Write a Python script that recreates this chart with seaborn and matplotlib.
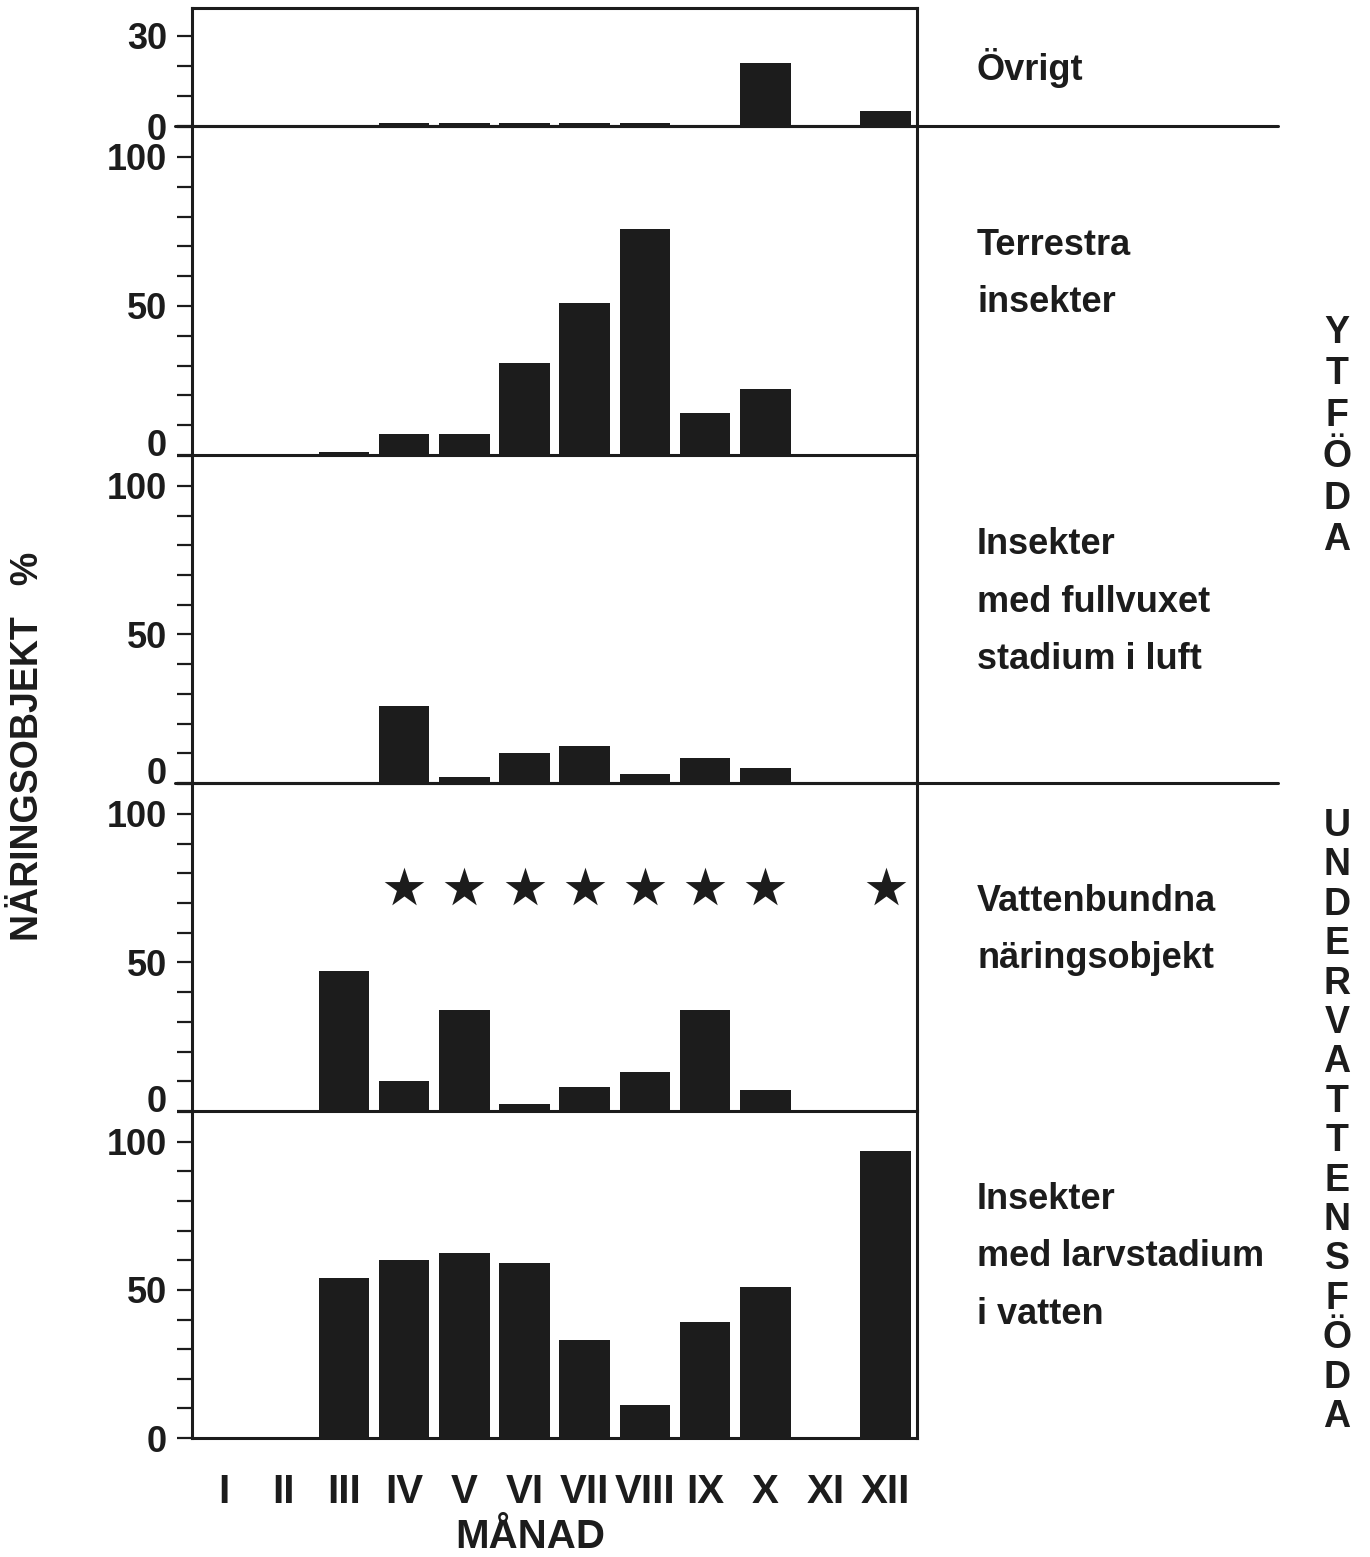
import matplotlib
matplotlib.use("Agg")
import matplotlib.pyplot as plt
import seaborn as sns
import pandas as pd
from matplotlib.ticker import MultipleLocator, FuncFormatter

# data (percent of food items per month)
months = ['I', 'II', 'III', 'IV', 'V', 'VI', 'VII', 'VIII', 'IX', 'X', 'XI', 'XII']
ovrigt = [0, 0, 0, 1, 1, 1, 1, 1, 0, 21, 0, 5]
terrestra = [0, 0, 1, 7, 7, 31, 51, 76, 14, 22, 0, 0]
fullvuxet = [0, 0, 0, 26, 2, 10, 12.5, 3, 8.5, 5, 0, 0]
vattenbundna = [0, 0, 47, 10, 34, 2.5, 8, 13, 34, 7, 0, 0]
larv = [0, 0, 54, 60, 62.5, 59, 33, 11, 39, 51, 0, 97]
star_months = ['IV', 'V', 'VI', 'VII', 'VIII', 'IX', 'X', 'XII']
star_level = 75

panel_labels = ['Övrigt', 'Terrestra\ninsekter', 'Insekter\nmed fullvuxet\nstadium i luft',
                'Vattenbundna\nnäringsobjekt', 'Insekter\nmed larvstadium\ni vatten']
series = [ovrigt, terrestra, fullvuxet, vattenbundna, larv]

sns.set_style('white')
plt.rcParams['font.family'] = ['Liberation Sans', 'DejaVu Sans']
ink = '#1c1c1c'

W, H = 1370, 1557
fig = plt.figure(figsize=(W / 100, H / 100), dpi=100)

# panel edges in pixels (top, bottom)
edges = [(8, 126), (126, 455), (455, 783), (783, 1111), (1111, 1438)]
ylims = [39.3, 110.4, 110.4, 110.4, 110.4]
left_px, right_px = 192, 917
label_y = [68, 274, 602, 930, 1257]
tick_len, tick_pad = 11, 7


def no_zero(v, pos):
    return '' if v == 0 else f'{v:g}'


axes = []
for i, ((t, b), vals) in enumerate(zip(edges, series)):
    ax = fig.add_axes([left_px / W, 1 - b / H, (right_px - left_px) / W, (b - t) / H])
    df = pd.DataFrame({'month': months, 'val': vals})
    sns.barplot(data=df, x='month', y='val', order=months, color=ink, saturation=1,
                width=0.84, linewidth=0, ax=ax)
    ax.set_xlim(-0.525, 11.52)
    ax.set_ylim(0, ylims[i])
    ax.set_xlabel('')
    ax.set_ylabel('')
    for s in ['left', 'right', 'bottom', 'top']:
        ax.spines[s].set_color(ink)
        ax.spines[s].set_linewidth(2.2)
    ax.spines['top'].set_visible(i == 0)
    if i == 0:
        ax.yaxis.set_major_locator(MultipleLocator(30))
    else:
        ax.yaxis.set_major_locator(MultipleLocator(50))
    ax.yaxis.set_minor_locator(MultipleLocator(10))
    ax.tick_params(axis='y', which='both', direction='out', length=tick_len, width=1.6,
                   color=ink, left=True)
    ax.tick_params(axis='y', which='major', labelsize=26, pad=tick_pad, labelcolor=ink)
    if i in (1, 2, 3):
        # this "0" sits a little above its tick, clear of the "100" below it
        ax.yaxis.set_major_formatter(FuncFormatter(no_zero))
        ax.annotate('0', xy=(0, 0), xycoords='axes fraction',
                    xytext=(-(tick_len + tick_pad), 6), textcoords='offset points',
                    ha='right', va='center', fontsize=26, fontweight='bold', color=ink)
    for lab in ax.get_yticklabels():
        lab.set_fontweight('bold')
    if i < 4:
        ax.tick_params(axis='x', which='both', bottom=False, labelbottom=False)
    else:
        ax.tick_params(axis='x', which='both', bottom=False, pad=22)
        ax.set_xticks(range(len(months)))
        ax.set_xticklabels(months, fontsize=29, color=ink, fontweight='bold')
    ax.patch.set_alpha(0)
    fig.text(977 / W, 1 - label_y[i] / H, panel_labels[i], fontsize=26, fontweight='bold',
             color=ink, ha='left', va='center', linespacing=1.85)
    axes.append(ax)

# long zero lines separating surface food from underwater food
for i in (0, 2):
    axes[i].axhline(0, xmin=-0.024, xmax=(1278 - left_px) / (right_px - left_px),
                    color=ink, lw=2.2, clip_on=False, zorder=5)

# stars above the underwater panel
star_x = [months.index(m) for m in star_months]
axes[3].scatter(star_x, [star_level] * len(star_x), marker='*', s=900, color=ink,
                linewidths=0, zorder=4)

# axis titles
fig.text(28 / W, 1 - 746 / H, 'NÄRINGSOBJEKT   %', rotation=90, fontsize=27,
         fontweight='bold', color=ink, ha='center', va='center')
fig.text(530 / W, 1 - 1537 / H, 'MÅNAD', fontsize=29, fontweight='bold', color=ink,
         ha='center', va='center')


def vertical_word(word, y0, step):
    for k, ch in enumerate(word):
        fig.text(1337 / W, 1 - (y0 + k * step) / H, ch, fontsize=27, fontweight='bold',
                 color=ink, ha='center', va='center')


vertical_word('YTFÖDA', 333, 41.4)
vertical_word('UNDERVATTENSFÖDA', 826, 39.4)

fig.savefig('out.png', dpi=100, facecolor='white')
